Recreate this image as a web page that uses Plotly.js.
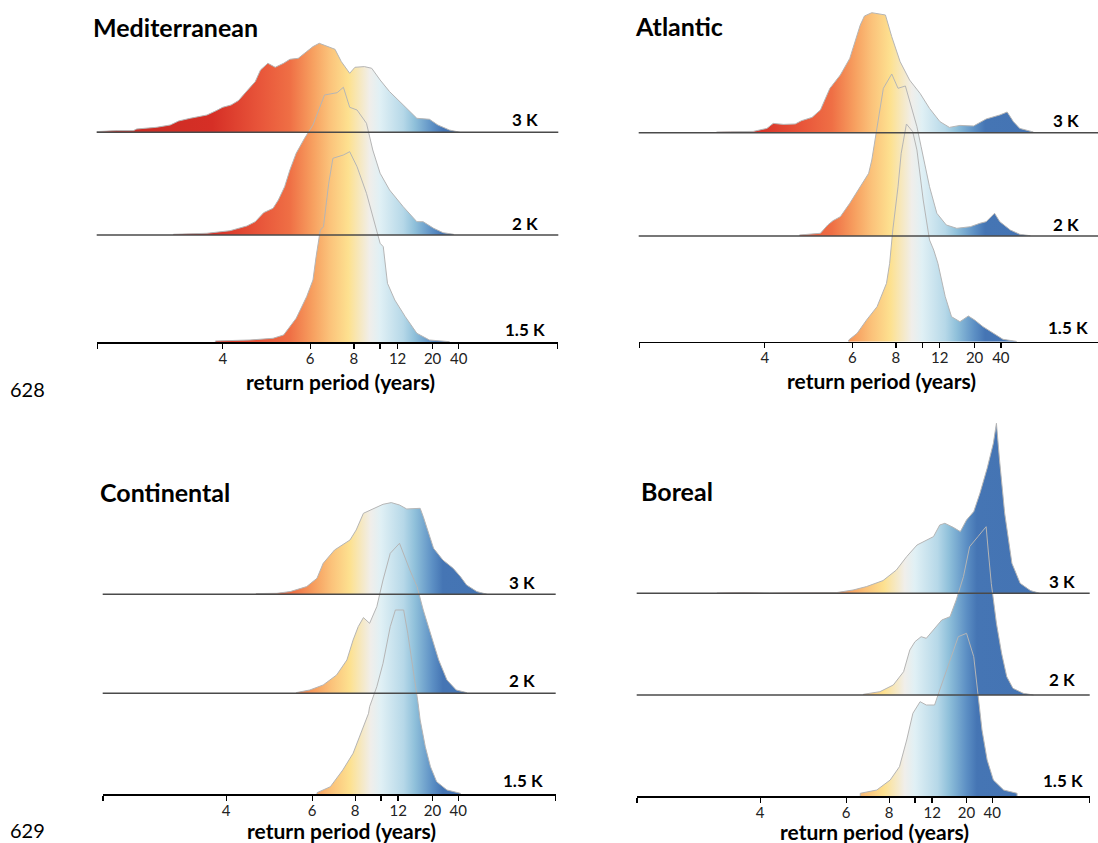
<!DOCTYPE html>
<html>
<head>
<meta charset="utf-8">
<script src="https://cdn.plot.ly/plotly-3.0.1.min.js"></script>
<style>html,body{margin:0;padding:0;background:#fff;}#chart{width:1098px;height:843px;}</style>
</head>
<body>
<div id="chart"></div>
<script>
// ---- tick labels (return period, years) ----
const tickPeriods = [4, 6, 8, 10, 12, 20, 40];
const tickLabels  = ['4', '6', '8', '', '12', '20', '40'];
const warmingLevels = ['3 K', '2 K', '1.5 K'];
const regions = ['Mediterranean', 'Atlantic', 'Continental', 'Boreal'];

// ---- densities: x = exceedance probability (1/return period), h = relative density ----
// Mediterranean
const medP3 = [0.370,0.351,0.335,0.332,0.313,0.300,0.292,0.281,0.265,0.256,0.250,0.242,0.235,0.227,0.219,0.214,0.207,0.200,0.192,0.186,0.178,0.170,0.164,0.158,0.151,0.143,0.137,0.129,0.124,0.115,0.108,0.100,0.091,0.076,0.065,0.053,0.045,0.034,0.024];
const medH3 = [0.7,1.7,1.7,3.3,5,7.3,11.3,14,17.3,21.7,25,27.3,31.7,41.3,50.7,62.3,69,65,69,73,74,80.7,85.7,89,86.3,83,70.7,59,65,65.7,64,52.3,40.7,25.7,14,13,7.3,2.3,0.3];
const medP2 = [0.297,0.265,0.243,0.227,0.219,0.211,0.202,0.197,0.191,0.186,0.180,0.172,0.164,0.153,0.141,0.135,0.129,0.122,0.113,0.107,0.100,0.091,0.078,0.065,0.059,0.049,0.040,0.030];
const medH2 = [0.7,1.7,4.3,9,13.3,22.3,26.7,35,48.3,65,81.7,96.7,110,140,142.3,147.7,127.7,125,111.7,85,61.7,45,28.3,13.3,13.3,6.7,2.3,0.7];
const medP1 = [0.257,0.224,0.202,0.192,0.180,0.170,0.164,0.161,0.157,0.154,0.149,0.145,0.135,0.129,0.122,0.113,0.107,0.100,0.097,0.093,0.086,0.076,0.065,0.053,0.034];
const medH1 = [1.3,2.3,4,7.3,24,45.7,62.3,85.7,112.3,115.6,159,184,187.3,190.6,175.6,149,125.6,99,95.6,59,42.3,25.6,9,2.3,0.6];
// Atlantic
const atlP3 = [0.296,0.283,0.261,0.248,0.242,0.232,0.221,0.215,0.205,0.197,0.188,0.178,0.169,0.159,0.155,0.148,0.135,0.129,0.121,0.112,0.102,0.093,0.083,0.074,0.064,0.051,0.039,0.026,0.019,0.013,0.007,-0.006];
const atlH3 = [0.7,1,1.3,4.3,9.3,8.3,8.7,12,15.3,22.7,44.3,57.7,74.3,107.7,116.7,120,117.7,96,71,52.7,39.3,24.3,11,5.3,7.3,6.7,13.7,17.7,20.7,11,4.3,0.7];
const atlP2 = [0.217,0.197,0.190,0.185,0.178,0.169,0.159,0.151,0.148,0.143,0.137,0.129,0.123,0.116,0.112,0.105,0.101,0.093,0.086,0.077,0.067,0.054,0.045,0.039,0.031,0.026,0.016,0.007,-0.003];
const atlH2 = [1,2.7,11,15.3,19.3,32.7,49.3,62.7,76,109.3,147.7,162,147.7,150,136,109.3,89.3,49.3,22.7,11,7.7,9.3,12.7,14.3,22.7,14.3,6,1.7,0.3];
const atlP1 = [0.170,0.162,0.153,0.143,0.134,0.131,0.128,0.123,0.120,0.115,0.109,0.105,0.099,0.093,0.089,0.085,0.078,0.072,0.064,0.056,0.050,0.042,0.032,0.023,0.010];
const atlH1 = [1.7,8.4,21.7,35,58.4,78.4,111.7,155,188.4,217.7,210,191.7,141.7,101.7,91.7,78.4,45,25,20,25.7,21.7,15,8.4,2.4,0.3];
// Continental
const conP3 = [0.221,0.201,0.188,0.172,0.162,0.156,0.145,0.130,0.124,0.117,0.107,0.098,0.090,0.082,0.075,0.062,0.059,0.049,0.040,0.030,0.023,0.017,0.007,-0.003];
const conH3 = [0.7,1,2.7,7.7,16,31,44.3,54.3,64.3,81,86,90,91.7,89.3,85.3,86,77.7,46,34.3,26,17.7,9.3,2.7,0.7];
const conP2 = [0.182,0.169,0.156,0.143,0.133,0.127,0.122,0.117,0.111,0.104,0.098,0.091,0.082,0.072,0.065,0.059,0.052,0.044,0.036,0.027,0.017];
const conH2 = [0.7,3.3,8.3,18.3,33.3,53.3,66.7,75.7,70,86.7,113.3,140,150,123.3,106.7,83.3,60,33.3,13.3,3.3,0.7];
const conP1 = [0.162,0.149,0.137,0.127,0.117,0.112,0.111,0.104,0.098,0.091,0.086,0.078,0.074,0.069,0.064,0.062,0.057,0.052,0.046,0.036,0.023];
const conH1 = [1.6,7.6,24.3,41,67.6,81,87.6,107.6,131,167.6,184.3,184.3,161,127.6,91,74.3,47.6,27.6,12.6,4.3,1];
// Boreal
const borP3 = [0.292,0.266,0.241,0.176,0.160,0.147,0.131,0.118,0.108,0.098,0.089,0.082,0.076,0.071,0.063,0.056,0.050,0.043,0.037,0.030,0.024,0.021,0.018,0.013,0.006,-0.002,-0.012,-0.021];
const borH3 = [0.3,0.7,0.3,0.7,3.3,6.7,12.7,23.3,36.7,48.3,53.3,56.7,68.3,70,66,61.7,73.3,81.7,100,125,150,170,133.3,80,30,10,2.7,0.3];
const borP2 = [0.150,0.134,0.121,0.111,0.105,0.100,0.094,0.089,0.081,0.074,0.066,0.060,0.053,0.047,0.039,0.031,0.029,0.026,0.021,0.016,0.011,0.005,-0.005,-0.015];
const borH2 = [0.7,3.3,10,23.3,45,53.3,58.3,56.7,66.7,75,78.3,95,118.3,148.3,158.3,168.3,145,111.7,71.7,41.7,18.3,6.7,1.7,0.3];
const borP1 = [0.153,0.137,0.124,0.115,0.108,0.102,0.095,0.089,0.081,0.076,0.066,0.058,0.050,0.043,0.039,0.035,0.030,0.024,0.014,0.001];
const borH1 = [2.7,6,16,29.3,56,82.7,94.3,91,91,106,136,159.3,162.7,139.3,102.7,66,36,16,6,2.7];

// ---- styling / layout ----
const FONT = 'Lato, "Open Sans", sans-serif';
const GRAD_START = 0.37, GRAD_STOP = -0.07;
const CS = [
  [0, '#c62a22'], [0.25, '#d62f26'], [0.3523, '#e8553a'], [0.4182, '#ef6f45'],
  [0.4682, '#f7a060'], [0.5045, '#fbc27a'], [0.5455, '#fde190'], [0.5909, '#f0eeea'],
  [0.6136, '#e0f0f5'], [0.6636, '#b6d8e8'], [0.6886, '#8fc0da'], [0.7273, '#5c8fc4'],
  [0.75, '#4575b4'], [1, '#4372b2']
];

const panels = [
  {xa:'x',  ya:'y',  ridges:[[medP3,medH3],[medP2,medH2],[medP1,medH1]], offs:[210,107.3,0],
   xdom:[0.08807,0.50847], xr:[0.3701,-0.0698], ydom:[0.59395,0.97628], yr:[0,322.3]},
  {xa:'x2', ya:'y2', ridges:[[atlP3,atlH3],[atlP2,atlH2],[atlP1,atlH1]], offs:[209,105.7,0],
   xdom:[0.58169,1.0], xr:[0.3702,-0.0676], ydom:[0.59466,0.99407], yr:[0,336.7]},
  {xa:'x3', ya:'y3', ridges:[[conP3,conH3],[conP2,conH2],[conP1,conH1]], offs:[200,101,0],
   xdom:[0.09353,0.50610], xr:[0.36975,-0.06941], ydom:[0.05777,0.44247], yr:[0,324.3]},
  {xa:'x4', ya:'y4', ridges:[[borP3,borH3],[borP2,borH2],[borP1,borH1]], offs:[202.7,101,0],
   xdom:[0.57987,0.99244], xr:[0.36975,-0.06941], ydom:[0.05575,0.51364], yr:[0,386]}
];

const tickvals = tickPeriods.map(t => 1 / t).concat([0.3695, -0.0690]);
const ticktext = tickLabels.concat(['', '']);

const traces = [];
const shapes = [];
const layout = {
  width: 1098, height: 843,
  margin: {l:0, r:0, t:0, b:0},
  paper_bgcolor: '#fff', plot_bgcolor: 'rgba(0,0,0,0)',
  showlegend: false,
  font: {family: FONT, color: '#000'},
  annotations: []
};

panels.forEach((pn, i) => {
  pn.ridges.forEach(([p, h], k) => {
    const off = pn.offs[k];
    traces.push({
      type: 'scatter', mode: 'lines',
      x: [p[0]].concat(p, [p[p.length - 1]]),
      y: [off].concat(h.map(v => v + off), [off]),
      xaxis: pn.xa, yaxis: pn.ya,
      fill: 'toself',
      fillgradient: {type: 'horizontal', start: GRAD_START, stop: GRAD_STOP, colorscale: CS},
      line: {color: '#b5b5b5', width: 1, shape: 'linear'},
      hoverinfo: 'skip', name: regions[i] + ' ' + warmingLevels[k]
    });
    if (off > 0) {
      shapes.push({type: 'line', xref: pn.xa + ' domain', x0: 0, x1: 1, yref: pn.ya, y0: off, y1: off,
                   line: {color: '#4a4a4a', width: 1.5}, layer: 'above'});
    }
  });
  const sfx = i === 0 ? '' : String(i + 1);
  layout['xaxis' + sfx] = {
    domain: pn.xdom, range: pn.xr, anchor: pn.ya,
    tickmode: 'array', tickvals: tickvals, ticktext: ticktext,
    showline: true, linecolor: '#000', linewidth: 1.5,
    ticks: 'outside', ticklen: 5, tickwidth: 1.3, tickcolor: '#000',
    ticklabelstandoff: -3,
    showgrid: false, zeroline: false, fixedrange: true,
    tickfont: {family: FONT, size: 15, color: '#222'}
  };
  layout['yaxis' + sfx] = {
    domain: pn.ydom, range: pn.yr, anchor: pn.xa, visible: false, fixedrange: true
  };
});
layout.shapes = shapes;

function ann(text, x, y, xanchor, size, bold) {
  layout.annotations.push({
    text: bold ? '<b>' + text + '</b>' : text, xref: 'paper', yref: 'paper', x: x, y: y,
    xanchor: xanchor, yanchor: 'middle', showarrow: false,
    font: {family: FONT, size: size, color: '#000'}
  });
}
// region titles
ann(regions[0], 0.0829, 0.9683, 'left', 25, true);
ann(regions[1], 0.5765, 0.9692, 'left', 25, true);
ann(regions[2], 0.0893, 0.4167, 'left', 25, true);
ann(regions[3], 0.5820, 0.4176, 'left', 25, true);
// warming-level labels
const lab = [
  [[0.4918,0.8585],[0.4918,0.7351],[0.4982,0.6097]],
  [[0.9848,0.8568],[0.9848,0.7331],[0.9924,0.6113]],
  [[0.4891,0.3088],[0.4891,0.1922],[0.4966,0.0747]],
  [[0.9809,0.3100],[0.9809,0.1942],[0.9884,0.0747]]
];
lab.forEach(pl => pl.forEach((xy, k) => ann(warmingLevels[k], xy[0], xy[1], 'right', 17, true)));
// axis titles
const axisTitle = 'return period (years)';
ann(axisTitle, 0.3097, 0.5472, 'center', 21, true);
ann(axisTitle, 0.8030, 0.5492, 'center', 21, true);
ann(axisTitle, 0.3108, 0.0150, 'center', 21, true);
ann(axisTitle, 0.7969, 0.0140, 'center', 21, true);
// manuscript line numbers
ann('628', 0.0073, 0.5385, 'left', 20, false);
ann('629', 0.0073, 0.0150, 'left', 20, false);

Plotly.newPlot('chart', traces, layout, {staticPlot: true, displayModeBar: false});
</script>
</body>
</html>
